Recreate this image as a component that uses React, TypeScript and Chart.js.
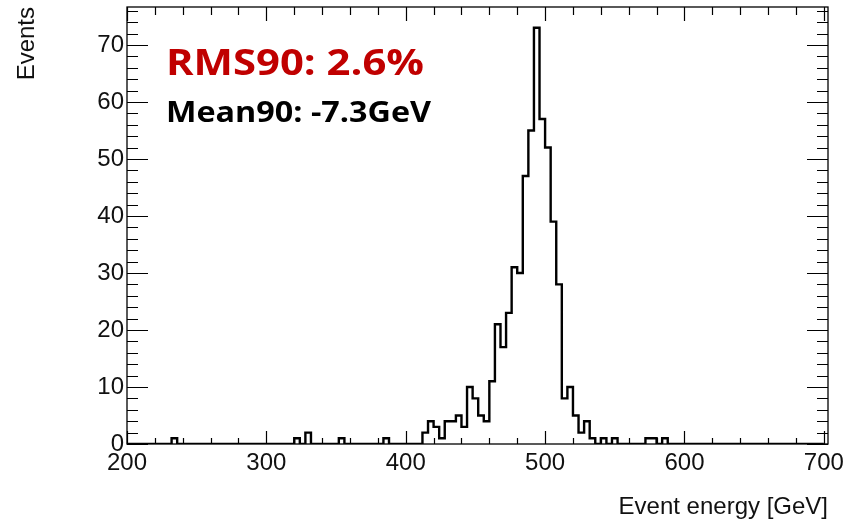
import React, { useEffect, useRef } from "react";
import { Chart, registerables } from "chart.js";

Chart.register(...registerables);

// Histogram binning (TH1-like): 125 bins of 4 GeV from 200 to 700 GeV
const HIST_MIN_GEV = 200;
const HIST_MAX_GEV = 700;
const BIN_WIDTH_GEV = 4;

// Event counts per 4 GeV bin, one array per 100 GeV (25 bins each)
const counts200to300 = [0, 0, 0, 0, 0, 0, 0, 0, 1, 0, 0, 0, 0, 0, 0, 0, 0, 0, 0, 0, 0, 0, 0, 0, 0];
const counts300to400 = [0, 0, 0, 0, 0, 1, 0, 2, 0, 0, 0, 0, 0, 1, 0, 0, 0, 0, 0, 0, 0, 1, 0, 0, 0];
const counts400to500 = [0, 0, 0, 2, 4, 3, 1, 4, 4, 5, 3, 10, 8, 5, 4, 11, 21, 17, 23, 31, 30, 47, 55, 73, 57];
const counts500to600 = [52, 39, 28, 8, 10, 5, 2, 4, 1, 0, 1, 0, 1, 0, 0, 0, 0, 0, 1, 1, 0, 1, 0, 0, 0];
const counts600to700 = [0, 0, 0, 0, 0, 0, 0, 0, 0, 0, 0, 0, 0, 0, 0, 0, 0, 0, 0, 0, 0, 0, 0, 0, 0];

// Axis tick labels
const xTickValues = [200, 300, 400, 500, 600, 700];
const yTickValues = [0, 10, 20, 30, 40, 50, 60, 70];

// Titles and annotations
const xTitle = "Event energy [GeV]";
const yTitle = "Events";
const rmsLabel = "RMS90: 2.6%";
const meanLabel = "Mean90: -7.3GeV";

const allCounts = [
  ...counts200to300,
  ...counts300to400,
  ...counts400to500,
  ...counts500to600,
  ...counts600to700,
];
const Y_MAX = 1.05 * Math.max(...allCounts);
const X_AXIS_MAX = 703;

const histPoints = allCounts.map((c, i) => ({ x: HIST_MIN_GEV + i * BIN_WIDTH_GEV, y: c }));
histPoints.push({ x: HIST_MAX_GEV, y: allCounts[allCounts.length - 1] });

const FONT = '"Liberation Sans", Arial, Helvetica, sans-serif';

const rootFramePlugin = {
  id: "rootFrame",
  afterDatasetsDraw(chart: any) {
    const { ctx, chartArea: a, scales } = chart;
    const x = scales.x;
    const y = scales.y;
    ctx.save();
    ctx.strokeStyle = "#000";
    ctx.lineWidth = 1.3;
    ctx.strokeRect(a.left, a.top, a.right - a.left, a.bottom - a.top);
    ctx.beginPath();
    for (let v = HIST_MIN_GEV; v <= HIST_MAX_GEV; v += 20) {
      const px = Math.round(x.getPixelForValue(v)) + 0.5;
      const major = v % 100 === 0;
      const lb = major ? 13 : 6;
      const lt = major ? 14 : 8;
      ctx.moveTo(px, a.bottom);
      ctx.lineTo(px, a.bottom - lb);
      ctx.moveTo(px, a.top);
      ctx.lineTo(px, a.top + lt);
    }
    for (let v = 0; v <= Y_MAX; v += 2) {
      const py = Math.round(y.getPixelForValue(v)) + 0.5;
      const major = v % 10 === 0;
      const len = major ? 21 : 11;
      ctx.moveTo(a.left, py);
      ctx.lineTo(a.left + len, py);
      ctx.moveTo(a.right, py);
      ctx.lineTo(a.right - len, py);
    }
    ctx.lineWidth = 1.2;
    ctx.stroke();

    // annotations
    const drawStretched = (text: string, font: string, color: string, left: number, baseline: number, width: number) => {
      ctx.save();
      ctx.font = font;
      ctx.fillStyle = color;
      ctx.textAlign = "left";
      ctx.textBaseline = "alphabetic";
      const w = ctx.measureText(text).width;
      ctx.translate(left, baseline);
      ctx.scale(width / w, 1);
      ctx.fillText(text, 0, 0);
      ctx.restore();
    };
    drawStretched(rmsLabel, 'bold 35px "Open Sans", sans-serif', "#c00000", 166, 75, 258);
    drawStretched(meanLabel, 'bold 28px "Open Sans", sans-serif', "#000", 166, 122, 265);
    ctx.restore();
  },
};

export default function App() {
  const canvasRef = useRef<HTMLCanvasElement | null>(null);

  useEffect(() => {
    if (!canvasRef.current) return;
    const chart = new Chart(canvasRef.current, {
      type: "line",
      data: {
        datasets: [
          {
            data: histPoints,
            stepped: "before",
            borderColor: "#000",
            borderWidth: 2.4,
            pointRadius: 0,
            fill: false,
            tension: 0,
          },
        ],
      },
      options: {
        responsive: false,
        animation: false,
        events: [],
        layout: { padding: { top: 7, right: 28, bottom: 0, left: 0 } },
        plugins: {
          legend: { display: false },
          tooltip: { enabled: false },
        },
        scales: {
          x: {
            type: "linear",
            min: HIST_MIN_GEV,
            max: X_AXIS_MAX,
            grid: { display: false, drawTicks: false },
            border: { display: false },
            afterBuildTicks: (scale: any) => {
              scale.ticks = xTickValues.map((v) => ({ value: v }));
            },
            afterFit: (scale: any) => {
              scale.height = 78;
              scale.paddingLeft = 0;
              scale.paddingRight = 0;
            },
            ticks: {
              autoSkip: false,
              maxRotation: 0,
              padding: 5,
              color: "#111",
              font: { family: FONT, size: 24 },
              callback: (v: any) => String(v),
            },
            title: {
              display: true,
              text: xTitle,
              align: "end",
              color: "#111",
              font: { family: FONT, size: 24 },
              padding: { top: 0, bottom: 0 },
            },
          },
          y: {
            type: "linear",
            min: 0,
            max: Y_MAX,
            grid: { display: false, drawTicks: false },
            border: { display: false },
            afterBuildTicks: (scale: any) => {
              scale.ticks = yTickValues.map((v) => ({ value: v }));
            },
            afterFit: (scale: any) => {
              scale.width = 127;
              scale.paddingTop = 0;
              scale.paddingBottom = 0;
            },
            ticks: {
              autoSkip: false,
              padding: 3,
              color: "#111",
              font: { family: FONT, size: 24 },
              callback: (v: any) => String(v),
            },
            title: {
              display: true,
              text: yTitle,
              align: "end",
              color: "#111",
              font: { family: FONT, size: 24 },
              padding: { top: 13, bottom: 0 },
            },
          },
        },
      } as any,
      plugins: [rootFramePlugin],
    });
    return () => chart.destroy();
  }, []);

  return (
    <div style={{ position: "absolute", left: 0, top: 0, width: 856, height: 522, background: "#fff" }}>
      <canvas ref={canvasRef} width={856} height={522} style={{ display: "block" }} />
    </div>
  );
}
